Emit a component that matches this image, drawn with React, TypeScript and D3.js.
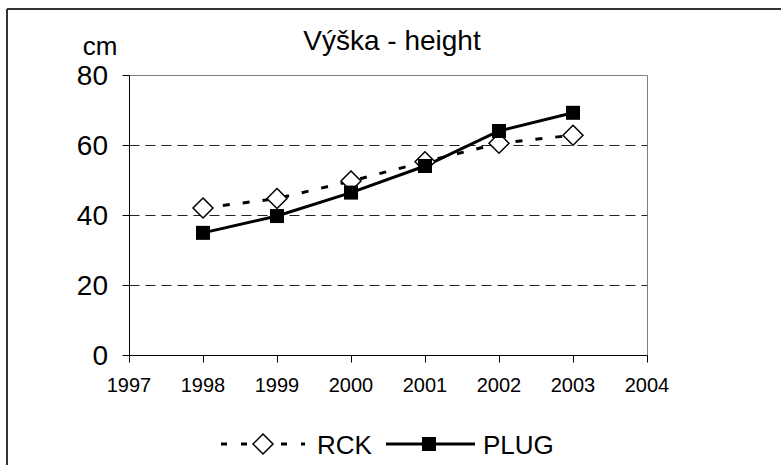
import React from "react";
import * as d3 from "d3";

const years = [1998, 1999, 2000, 2001, 2002, 2003];
const rck = [42.0, 44.7, 49.7, 55.2, 60.5, 62.8];
const plug = [34.9, 39.7, 46.4, 54.0, 64.0, 69.2];
const yTicks = [0, 20, 40, 60, 80];
const xTicks = [1997, 1998, 1999, 2000, 2001, 2002, 2003, 2004];
const title = "Výška - height";
const yUnit = "cm";
const seriesNames = ["RCK", "PLUG"];

const W = 781;
const H = 465;
const FONT = "'Liberation Sans', Arial, sans-serif";

export default function App() {
  const x = d3.scaleLinear().domain([1997, 2004]).range([129, 647]);
  const y = d3.scaleLinear().domain([0, 80]).range([355, 75]);
  const line = d3
    .line<number>()
    .x((_, i) => x(years[i]))
    .y((d) => y(d));

  const diamond = (cx: number, cy: number, r: number) =>
    `M${cx},${cy - r}L${cx + r},${cy}L${cx},${cy + r}L${cx - r},${cy}Z`;

  const c = (v: number) => Math.round(v) + 0.5;
  const legY = 444;
  const x0 = c(x(1997));
  const x1 = c(x(2004));
  const yb = c(y(0));
  const yt = c(y(80));
  return (
    <svg
      width={W}
      height={H}
      style={{ position: "absolute", left: 0, top: 0, background: "#fff" }}
      fontFamily={FONT}
    >
      <rect x={0} y={0} width={W} height={H} fill="#fff" />
      {/* outer frame */}
      <line x1={7} x2={W} y1={9} y2={9} stroke="#333" strokeWidth={2} />
      <line x1={7} x2={7} y1={9} y2={H} stroke="#333" strokeWidth={2} />

      <text x={392} y={50} textAnchor="middle" fontSize={28} fill="#000">
        {title}
      </text>
      <text x={100} y={55} textAnchor="middle" fontSize={26} fill="#000">
        {yUnit}
      </text>

      {/* grid */}
      {yTicks
        .filter((t) => t > 0 && t < 80)
        .map((t) => (
          <line
            key={"g" + t}
            x1={x0}
            x2={x1}
            y1={c(y(t))}
            y2={c(y(t))}
            stroke="#222"
            strokeWidth={1}
            strokeDasharray="10,6"
          />
        ))}
      {/* plot border */}
      <line x1={x0} x2={x1} y1={yt} y2={yt} stroke="#808080" strokeWidth={1} />
      <line x1={x1} x2={x1} y1={yt} y2={yb} stroke="#808080" strokeWidth={1} />
      {/* axes */}
      <line x1={x0} x2={x0} y1={yt} y2={yb} stroke="#000" strokeWidth={1} />
      <line x1={x0} x2={x1} y1={yb} y2={yb} stroke="#000" strokeWidth={1} />
      {yTicks.map((t) => (
        <g key={"y" + t}>
          <line x1={x0 - 7} x2={x0} y1={c(y(t))} y2={c(y(t))} stroke="#000" />
          <text x={108} y={y(t) + 10} textAnchor="end" fontSize={28} fill="#000">
            {t}
          </text>
        </g>
      ))}
      {xTicks.map((t) => (
        <g key={"x" + t}>
          <line x1={c(x(t))} x2={c(x(t))} y1={yb} y2={yb + 7} stroke="#000" />
          <text x={x(t)} y={392} textAnchor="middle" fontSize={20} fill="#000">
            {t}
          </text>
        </g>
      ))}

      {/* series */}
      <path d={line(rck) || ""} fill="none" stroke="#000" strokeWidth={3} strokeDasharray="7,13" />
      <path d={line(plug) || ""} fill="none" stroke="#000" strokeWidth={3} />
      {rck.map((v, i) => (
        <path key={"r" + i} d={diamond(x(years[i]), y(v), 10)} fill="#fff" stroke="#000" strokeWidth={1.5} />
      ))}
      {plug.map((v, i) => (
        <rect key={"p" + i} x={x(years[i]) - 7} y={y(v) - 7} width={14} height={14} fill="#000" />
      ))}

      {/* legend */}
      <line x1={221} x2={305} y1={legY} y2={legY} stroke="#000" strokeWidth={3} strokeDasharray="6,14" />
      <path d={diamond(263, legY, 10)} fill="#fff" stroke="#000" strokeWidth={1.5} />
      <text x={317} y={legY + 10} fontSize={26} fill="#000">
        {seriesNames[0]}
      </text>
      <line x1={386} x2={475} y1={legY} y2={legY} stroke="#000" strokeWidth={3} />
      <rect x={429 - 7} y={legY - 7} width={14} height={14} fill="#000" />
      <text x={483} y={legY + 10} fontSize={26} fill="#000">
        {seriesNames[1]}
      </text>
    </svg>
  );
}
